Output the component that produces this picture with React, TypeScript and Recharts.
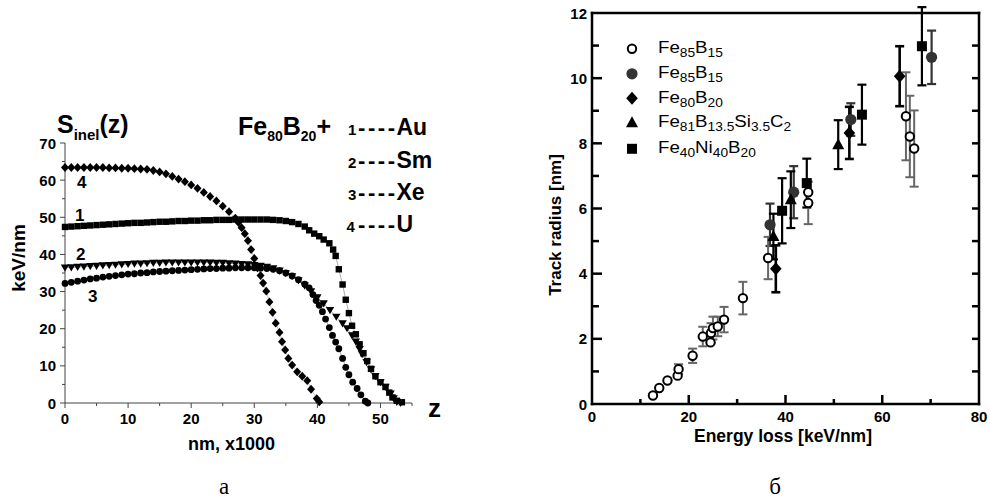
import React from "react";
import { ComposedChart, ErrorBar, Line, Scatter, XAxis, YAxis } from "recharts";

const FONT = "'Liberation Sans', Arial, Helvetica, sans-serif";
const SERIF = "'Liberation Serif', 'DejaVu Serif', serif";

// panel а: S_inel(z), keV/nm vs depth z (nm x1000) in Fe80B20
const auZ = [0, 1, 2, 3, 4, 5, 6, 7, 8, 9, 10, 11, 12, 13, 14, 15, 16, 17, 18, 19, 20, 21, 22, 23, 24, 25, 26, 27, 28, 29, 30, 31, 32, 33, 34, 35, 36, 37, 38,
  38.7, 39.5, 40.3, 41, 41.9, 42.5, 42.9, 43.4, 44, 44.5, 45, 45.5, 46.1, 46.7, 47.3, 47.9, 48.5, 49.2, 50, 50.8, 51.4, 51.9, 52.6, 53.4];
const auS = [47.4, 47.5, 47.6, 47.7, 47.8, 47.9, 48.0, 48.1, 48.2, 48.3, 48.4, 48.5, 48.5, 48.6, 48.7, 48.8, 48.8, 48.9, 49.0, 49.0, 49.1, 49.1, 49.2, 49.2, 49.3, 49.3, 49.3, 49.4, 49.4, 49.4, 49.4, 49.4, 49.4, 49.3, 49.2, 49.0, 48.7, 48.2, 47.5,
  46.5, 45.6, 44.9, 44.0, 43.0, 41.3, 39.6, 36.0, 31.9, 27.8, 24.2, 20.8, 18.5, 15.8, 13.4, 11.3, 9.2, 7.2, 5.6, 4.3, 2.8, 1.5, 0.6, 0.2];

const smZ = [0, 1, 2, 3, 4, 5, 6, 7, 8, 9, 10, 11, 12, 13, 14, 15, 16, 17, 18, 19, 20, 21, 22, 23, 24, 25, 26, 27, 28, 29, 30, 31, 32, 33, 34, 35, 36, 37, 38, 39, 40, 41, 42, 43, 44,
  44.7, 45.5, 46.1, 46.7, 47.1, 47.8, 48.5, 49.2, 50, 50.8, 51.6, 52.1, 52.6, 53.2];
const smS = [36.4, 36.5, 36.6, 36.7, 36.8, 36.9, 37.0, 37.1, 37.2, 37.3, 37.4, 37.5, 37.5, 37.6, 37.7, 37.7, 37.8, 37.8, 37.8, 37.8, 37.8, 37.8, 37.8, 37.8, 37.7, 37.7, 37.6, 37.5, 37.4, 37.3, 37.1, 36.9, 36.6, 36.2, 35.6, 34.9, 34.1, 33.0, 31.6, 30.0, 28.4, 26.8, 25.0, 23.2, 21.4,
  20.1, 18.2, 16.5, 14.5, 13.1, 11.0, 9.0, 7.2, 5.6, 4.3, 2.5, 1.2, 0.3, 0];

const xeZ = [0, 1, 2, 3, 4, 5, 6, 7, 8, 9, 10, 11, 12, 13, 14, 15, 16, 17, 18, 19, 20, 21, 22, 23, 24, 25, 26, 27, 28, 29, 30, 31, 32, 33, 34, 35, 36, 37, 38,
  38.7, 39.3, 39.8, 40.3, 40.8, 41.3, 41.9, 42.4, 42.9, 43.4, 44, 44.5, 45, 45.6, 46.3, 46.9, 47.6, 48];
const xeS = [32.2, 32.5, 32.8, 33.1, 33.4, 33.6, 33.9, 34.1, 34.3, 34.5, 34.7, 34.8, 35.0, 35.1, 35.3, 35.4, 35.5, 35.6, 35.7, 35.8, 35.9, 36.0, 36.1, 36.2, 36.2, 36.3, 36.3, 36.4, 36.4, 36.4, 36.4, 36.3, 36.2, 36.0, 35.6, 35.0, 34.2, 33.2, 32.0,
  31.0, 29.2, 27.6, 26.3, 24.6, 22.6, 20.3, 18.2, 16.4, 14.6, 12.0, 9.6, 7.6, 5.6, 3.9, 2.2, 0.5, 0];

const uZ = [0, 1, 2, 3, 4, 5, 6, 7, 8, 9, 10, 11, 12, 13, 14, 15, 16, 17, 18, 19, 20, 21, 22, 23, 24, 25, 26, 27,
  27.5, 28, 28.5, 29, 29.5, 30, 30.5, 31, 31.4, 31.9, 32.4, 32.9, 33.4, 34, 34.4, 34.9, 35.4, 36, 36.8, 37.6, 38.4, 39, 39.9, 40.3];
const uS = [63.4, 63.4, 63.4, 63.4, 63.4, 63.4, 63.4, 63.3, 63.3, 63.2, 63.2, 63.1, 63.0, 62.9, 62.6, 62.2, 61.7, 61.0, 60.3, 59.6, 58.7, 57.8, 56.7, 55.6, 54.4, 53.0, 51.5, 49.8,
  48.6, 47.2, 45.6, 43.7, 41.3, 38.9, 36.4, 34.3, 32.3, 30.1, 27.2, 24.4, 21.5, 19.0, 16.5, 14.3, 12.0, 10.2, 8.4, 7.2, 6.0, 3.7, 1.2, 0.3];

const zTicks = [0, 5, 10, 15, 20, 25, 30, 35, 40, 45, 50, 55];
const sTicks = [0, 5, 10, 15, 20, 25, 30, 35, 40, 45, 50, 55, 60, 65, 70];
const ionLabels = ["Au", "Sm", "Xe", "U"];

// panel б: track radius vs energy loss
const openE = [12.6, 13.9, 15.6, 17.7, 17.9, 20.8, 22.9, 24.5, 24.6, 25.0, 26.0, 27.3, 31.2, 36.4, 44.7, 44.7, 64.9, 65.7, 66.6];
const openR = [0.26, 0.49, 0.72, 0.87, 1.07, 1.48, 2.07, 1.89, 2.18, 2.33, 2.38, 2.59, 3.25, 4.48, 6.17, 6.5, 8.83, 8.21, 7.84];
const openErr = [0, 0, 0, 0, 0.15, 0.22, 0.3, 0, 0.3, 0.35, 0.3, 0.39, 0.5, 0.65, 0.65, 0, 1.35, 1.25, 1.17];

const filledE = [36.8, 41.7, 53.5, 70.2];
const filledR = [5.5, 6.5, 8.73, 10.64];
const filledErr = [0.65, 0.8, 0.5, 0.82];

const diamondE = [38.0, 53.2, 63.6];
const diamondR = [4.15, 8.32, 10.06];
const diamondErr = [0.72, 0.8, 0.92];

const triE = [37.5, 41.1, 50.9];
const triR = [5.14, 6.27, 7.96];
const triErr = [0.7, 0.87, 0.75];

const squareE = [39.3, 44.4, 55.8, 68.2];
const squareR = [5.93, 6.78, 8.88, 10.98];
const squareErr = [1.0, 0.75, 0.92, 1.2];

const eTicks = [0, 10, 20, 30, 40, 50, 60, 70, 80];
const rTicks = [0, 1, 2, 3, 4, 5, 6, 7, 8, 9, 10, 11, 12];

type Part = [string, boolean];
const legendRows: { shape: string; parts: Part[] }[] = [
  { shape: "open", parts: [["Fe", false], ["85", true], ["B", false], ["15", true]] },
  { shape: "filled", parts: [["Fe", false], ["85", true], ["B", false], ["15", true]] },
  { shape: "diamond", parts: [["Fe", false], ["80", true], ["B", false], ["20", true]] },
  { shape: "triangle", parts: [["Fe", false], ["81", true], ["B", false], ["13.5", true], ["Si", false], ["3.5", true], ["C", false], ["2", true]] },
  { shape: "square", parts: [["Fe", false], ["40", true], ["Ni", false], ["40", true], ["B", false], ["20", true]] },
];

const zip = (zs: number[], ss: number[]) => zs.map((z, i) => ({ z, s: ss[i] }));
const pts = (es: number[], rs: number[], errs: number[]) =>
  es.map((e, i) => ({ e, r: rs[i], err: errs[i] }));

// markers for panel а
const squareDot = (p: any) => (
  <rect key={`sq-${p.index}`} x={p.cx - 3.2} y={p.cy - 3.2} width={6.4} height={6.4} fill="#000" />
);
const triDot = (p: any) => (
  <polygon key={`tr-${p.index}`} fill="#000"
    points={`${p.cx - 4.2},${p.cy - 3.2} ${p.cx + 4.2},${p.cy - 3.2} ${p.cx},${p.cy + 4}`} />
);
const circleDot = (p: any) => <circle key={`ci-${p.index}`} cx={p.cx} cy={p.cy} r={3.4} fill="#000" />;
const diamondDot = (p: any) => (
  <polygon key={`di-${p.index}`} fill="#000"
    points={`${p.cx},${p.cy - 4.4} ${p.cx + 4},${p.cy} ${p.cx},${p.cy + 4.4} ${p.cx - 4},${p.cy}`} />
);

// markers for panel б
const Marker = ({ kind, cx, cy }: { kind: string; cx: number; cy: number }) => {
  if (kind === "open") return <circle cx={cx} cy={cy} r={4.2} fill="#fff" stroke="#000" strokeWidth={2} />;
  if (kind === "filled") return <circle cx={cx} cy={cy} r={5.6} fill="#333" />;
  if (kind === "diamond")
    return <polygon fill="#000" points={`${cx},${cy - 6.5} ${cx + 5.8},${cy} ${cx},${cy + 6.5} ${cx - 5.8},${cy}`} />;
  if (kind === "triangle")
    return <polygon fill="#000" points={`${cx},${cy - 6.5} ${cx + 6},${cy + 4.5} ${cx - 6},${cy + 4.5}`} />;
  return <rect x={cx - 5} y={cy - 5} width={10} height={10} fill="#000" />;
};

const tickText = { fontFamily: FONT, fontWeight: "bold" as const, fill: "#000" };

const ZTick = ({ x, y, payload }: any) => {
  const v = payload.value;
  const major = v % 10 === 0;
  return (
    <g>
      <line x1={x} x2={x} y1={y} y2={y + (major ? 5 : 3)} stroke="#444" strokeWidth={1} />
      {major && v < 55 && (
        <text x={x} y={y + 21} textAnchor="middle" fontSize={15} {...tickText}>{v}</text>
      )}
    </g>
  );
};

const STick = ({ x, y, payload }: any) => {
  const v = payload.value;
  const major = v % 10 === 0;
  return (
    <g>
      <line x1={x - (major ? 5 : 3)} x2={x} y1={y} y2={y} stroke="#444" strokeWidth={1} />
      {major && (
        <text x={x - 9} y={y + 5.5} textAnchor="end" fontSize={15} {...tickText}>{v}</text>
      )}
    </g>
  );
};

const EBottomTick = ({ x, y, payload }: any) => {
  const v = payload.value;
  const major = v % 20 === 0;
  return (
    <g>
      {v > 0 && v < 80 && <line x1={x} x2={x} y1={y} y2={y - (major ? 9 : 5)} stroke="#000" strokeWidth={2.5} />}
      {major && <text x={x} y={y + 18} textAnchor="middle" fontSize={15} {...tickText}>{v}</text>}
    </g>
  );
};

const ETopTick = ({ x, y, payload }: any) => {
  const v = payload.value;
  if (v <= 0 || v >= 80) return <g />;
  return <line x1={x} x2={x} y1={y} y2={y + 8} stroke="#000" strokeWidth={2.5} />;
};

const RLeftTick = ({ x, y, payload }: any) => {
  const v = payload.value;
  const major = v % 2 === 0;
  return (
    <g>
      {v > 0 && v < 12 && <line x1={x} x2={x + (major ? 10 : 7)} y1={y} y2={y} stroke="#000" strokeWidth={2.5} />}
      {major && <text x={x - 5} y={y + 5.5} textAnchor="end" fontSize={15} {...tickText}>{v}</text>}
    </g>
  );
};

const RRightTick = ({ x, y, payload }: any) => {
  const v = payload.value;
  if (v <= 0 || v >= 12) return <g />;
  return <line x1={x} x2={x - 7} y1={y} y2={y} stroke="#000" strokeWidth={2.5} />;
};

const SubText = ({ x, y, parts, size, subSize, shift, weight }: any) => {
  let prevSub = false;
  return (
    <text x={x} y={y} fontFamily={FONT} fontWeight={weight} fontSize={size} fill="#000">
      {parts.map(([t, sub]: Part, i: number) => {
        const dy = sub === prevSub ? 0 : sub ? shift : -shift;
        prevSub = sub;
        return (
          <tspan key={i} fontSize={sub ? subSize : size} dy={dy}>{t}</tspan>
        );
      })}
    </text>
  );
};

const frame = { stroke: "#000", strokeWidth: 2.5, strokeLinecap: "square" as const };

export default function App() {
  const legendY = [53.3, 78.3, 102.7, 127.3, 153.3];
  return (
    <div style={{ position: "absolute", left: 0, top: 0, width: 990, height: 499, background: "#fff", overflow: "hidden" }}>
      <div style={{ position: "absolute", left: 0, top: 0 }}>
        <ComposedChart width={480} height={470} margin={{ top: 143, right: 68, bottom: 37, left: 25 }}>
          <XAxis type="number" dataKey="z" domain={[0, 55]} ticks={zTicks} interval={0} height={30}
            tickSize={0} tickMargin={0} tickLine={false} tick={ZTick}
            axisLine={{ stroke: "#444", strokeWidth: 1 }} />
          <YAxis type="number" domain={[0, 70]} ticks={sTicks} interval={0} width={40}
            tickSize={0} tickMargin={0} tickLine={false} tick={STick}
            axisLine={{ stroke: "#444", strokeWidth: 1 }} />
          <Line data={zip(uZ, uS)} dataKey="s" stroke="#c9a3d9" strokeWidth={0.8} dot={diamondDot}
            activeDot={false} isAnimationActive={false} />
          <Line data={zip(xeZ, xeS)} dataKey="s" stroke="#999" strokeWidth={0.8} dot={circleDot}
            activeDot={false} isAnimationActive={false} />
          <Line data={zip(smZ, smS)} dataKey="s" stroke="#888" strokeWidth={0.8} dot={triDot}
            activeDot={false} isAnimationActive={false} />
          <Line data={zip(auZ, auS)} dataKey="s" stroke="#999" strokeWidth={0.8} dot={squareDot}
            activeDot={false} isAnimationActive={false} />
        </ComposedChart>
      </div>

      <div style={{ position: "absolute", left: 520, top: 0 }}>
        <ComposedChart width={470} height={470} margin={{ top: 12, right: 10, bottom: 26, left: 22 }}>
          <XAxis type="number" dataKey="e" domain={[0, 80]} ticks={eTicks} interval={0} height={40}
            allowDataOverflow tickSize={0} tickMargin={0} tickLine={false} tick={EBottomTick} axisLine={frame} />
          <XAxis xAxisId="top" orientation="top" type="number" domain={[0, 80]} ticks={eTicks} interval={0}
            height={1} allowDataOverflow tickSize={0} tickMargin={0} tickLine={false} tick={ETopTick} axisLine={frame} />
          <YAxis type="number" dataKey="r" domain={[0, 12]} ticks={rTicks} interval={0} width={50}
            allowDataOverflow tickSize={0} tickMargin={0} tickLine={false} tick={RLeftTick} axisLine={frame} />
          <YAxis yAxisId="right" orientation="right" type="number" domain={[0, 12]} ticks={rTicks} interval={0}
            width={1} allowDataOverflow tickSize={0} tickMargin={0} tickLine={false} tick={RRightTick} axisLine={frame} />
          <Scatter data={pts(filledE, filledR, filledErr)} isAnimationActive={false}
            shape={(p: any) => <Marker kind="filled" cx={p.cx} cy={p.cy} />}>
            <ErrorBar dataKey="err" direction="y" width={4.5} strokeWidth={2.2} stroke="#333" />
          </Scatter>
          <Scatter data={pts(squareE, squareR, squareErr)} isAnimationActive={false}
            shape={(p: any) => <Marker kind="square" cx={p.cx} cy={p.cy} />}>
            <ErrorBar dataKey="err" direction="y" width={4.5} strokeWidth={2.2} stroke="#000" />
          </Scatter>
          <Scatter data={pts(triE, triR, triErr)} isAnimationActive={false}
            shape={(p: any) => <Marker kind="triangle" cx={p.cx} cy={p.cy} />}>
            <ErrorBar dataKey="err" direction="y" width={4.5} strokeWidth={2.2} stroke="#000" />
          </Scatter>
          <Scatter data={pts(diamondE, diamondR, diamondErr)} isAnimationActive={false}
            shape={(p: any) => <Marker kind="diamond" cx={p.cx} cy={p.cy} />}>
            <ErrorBar dataKey="err" direction="y" width={4.5} strokeWidth={2.6} stroke="#000" />
          </Scatter>
          <Scatter data={pts(openE, openR, openErr)} isAnimationActive={false}
            shape={(p: any) => <Marker kind="open" cx={p.cx} cy={p.cy} />}>
            <ErrorBar dataKey="err" direction="y" width={4.5} strokeWidth={2} stroke="#666" />
          </Scatter>
        </ComposedChart>
      </div>

      <svg width={990} height={499} style={{ position: "absolute", left: 0, top: 0, pointerEvents: "none" }}>
        {/* panel а texts */}
        <SubText x={57} y={133} size={25} subSize={15} shift={7} weight="bold"
          parts={[["S", false], ["inel", true], ["(z)", false]]} />
        <SubText x={238} y={135} size={25} subSize={14} shift={6} weight="bold"
          parts={[["Fe", false], ["80", true], ["B", false], ["20", true], ["+", false]]} />
        {ionLabels.map((ion, i) => {
          const by = [135, 168.3, 200, 231.7][i];
          return (
            <g key={ion}>
              <text x={i === 3 ? 346.5 : 348} y={by} fontFamily={FONT} fontWeight="bold" fontSize={15}>{i + 1}</text>
              <text x={358} y={by} fontFamily={FONT} fontWeight="bold" fontSize={22} textLength={37}
                lengthAdjust="spacing">----</text>
              <text x={396.5} y={by} fontFamily={FONT} fontWeight="bold" fontSize={23}>{ion}</text>
            </g>
          );
        })}
        <text x={77} y={188} fontFamily={FONT} fontWeight="bold" fontSize={17}>4</text>
        <text x={75} y={221} fontFamily={FONT} fontWeight="bold" fontSize={17}>1</text>
        <text x={76} y={260} fontFamily={FONT} fontWeight="bold" fontSize={17}>2</text>
        <text x={88} y={302} fontFamily={FONT} fontWeight="bold" fontSize={17}>3</text>
        <text transform="translate(25 258) rotate(-90)" textAnchor="middle" fontFamily={FONT}
          fontWeight="bold" fontSize={19}>keV/nm</text>
        <text x={231.5} y={450} textAnchor="middle" fontFamily={FONT} fontWeight="bold" fontSize={18}>nm, x1000</text>
        <text x={428} y={417} fontFamily={FONT} fontWeight="bold" fontSize={26}>z</text>
        <text x={224} y={494} textAnchor="middle" fontFamily={SERIF} fontSize={23}>а</text>

        {/* panel б texts */}
        {legendRows.map((row, i) => (
          <g key={i}>
            <Marker kind={row.shape} cx={632} cy={legendY[i] - 4.5} />
            <g transform={`translate(658 0) scale(1.1 1)`}>
              <SubText x={0} y={legendY[i]} size={17} subSize={12.5} shift={4} weight="normal" parts={row.parts} />
            </g>
          </g>
        ))}
        <text transform="translate(561 225) rotate(-90)" textAnchor="middle" fontFamily={FONT}
          fontWeight="bold" fontSize={17}>Track radius [nm]</text>
        <text x={783} y={442} textAnchor="middle" fontFamily={FONT} fontWeight="bold" fontSize={17.5}>
          Energy loss [keV/nm]
        </text>
        <text x={775} y={494} textAnchor="middle" fontFamily={SERIF} fontSize={23}>б</text>
      </svg>
    </div>
  );
}
